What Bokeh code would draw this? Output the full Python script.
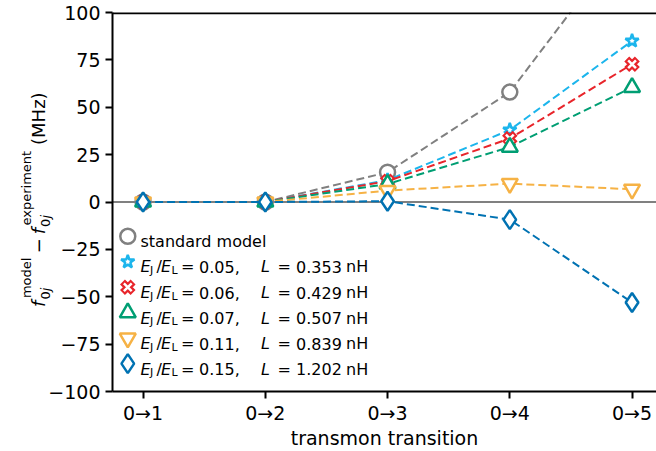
import math
from bokeh.plotting import figure
from bokeh.layouts import row
from bokeh.models import Range1d, FixedTicker, Span, Label
from bokeh.embed import file_html
from bokeh.resources import INLINE

# ---------------- data ----------------
transitions = ["0→1", "0→2", "0→3", "0→4", "0→5"]
x_idx = [0, 1, 2, 3, 4]
standard_model = [0.0, 0.0, 15.7, 58.0, 143.0]
dev_r005 = [0.0, 0.0, 11.5, 38.0, 85.0]
dev_r006 = [0.0, 0.0, 11.0, 33.5, 72.7]
dev_r007 = [0.0, 0.0, 9.5, 29.0, 60.5]
dev_r011 = [0.0, 0.0, 6.0, 9.7, 6.7]
dev_r015 = [0.0, 0.0, 0.4, -9.3, -53.0]
ratio_labels = ["0.05", "0.06", "0.07", "0.11", "0.15"]
inductance_labels = ["0.353", "0.429", "0.507", "0.839", "1.202"]
y_ticks = [-100, -75, -50, -25, 0, 25, 50, 75, 100]
y_tick_labels = ["−100", "−75", "−50", "−25", "0", "25", "50", "75", "100"]

# ---------------- style ----------------
FONT = "DejaVu Sans"
GRAY = "#808080"
colors = ["#1cb5ec", "#e8252b", "#009e73", "#f6b245", "#0072b2"]
markers = ["star", "x", "triangle", "inverted_triangle", "diamond"]
sizes = [14, 15, 16, 16, 19]
series = [dev_r005, dev_r006, dev_r007, dev_r011, dev_r015]

WIN_H = 451
LABEL_W = 55
OVERLAP = 10
LEFT, TOP, BOTTOM = 67, 12, 58
MAIN_W = 656 - LABEL_W + OVERLAP

p = figure(width=MAIN_W, height=WIN_H, output_backend="svg", toolbar_location=None,
           x_range=Range1d(-0.25, 4.2), y_range=Range1d(-100, 100),
           min_border_left=LEFT, min_border_right=0, min_border_top=TOP,
           min_border_bottom=BOTTOM)
p.outline_line_color = None
p.border_fill_color = None
p.grid.visible = False
p.margin = (0, 0, 0, -OVERLAP)

for ax in (p.xaxis[0], p.yaxis[0]):
    ax.axis_line_width = 2
    ax.axis_line_color = "black"
    ax.major_tick_line_width = 2
    ax.major_tick_line_color = "black"
    ax.major_tick_out = 7
    ax.major_tick_in = 0
    ax.minor_tick_line_color = None
    ax.major_label_text_font = FONT
    ax.major_label_text_font_size = "19px"
    ax.major_label_text_color = "black"

p.xaxis.ticker = FixedTicker(ticks=x_idx)
p.xaxis.major_label_overrides = {i: t for i, t in zip(x_idx, transitions)}
p.xaxis.major_label_standoff = 3
p.xaxis.axis_label = "transmon transition"
p.xaxis.axis_label_text_font = FONT
p.xaxis.axis_label_text_font_size = "19px"
p.xaxis.axis_label_text_font_style = "normal"
p.xaxis.axis_label_text_color = "black"
p.xaxis.axis_label_standoff = 0

p.yaxis.ticker = FixedTicker(ticks=y_ticks)
p.yaxis.major_label_overrides = {v: t for v, t in zip(y_ticks, y_tick_labels)}
p.yaxis.major_label_standoff = 5

p.add_layout(Span(location=0, dimension="width", line_color=GRAY, line_width=2, level="underlay"))
p.add_layout(Span(location=99.7, dimension="width", line_color="black", line_width=2.2))

# ---------------- series ----------------
def draw_marker(xs, ys, marker, color, size):
    if marker == "x":
        p.scatter(xs, ys, marker="x", size=size, line_color=color, line_width=7)
        p.scatter(xs, ys, marker="x", size=size - 4, line_color="white", line_width=2.5)
    else:
        p.scatter(xs, ys, marker=marker, size=size, line_color=color,
                  fill_color="white", line_width=2.5)

p.line(x_idx, standard_model, line_color=GRAY, line_width=2, line_dash="8 4")
draw_marker(x_idx, standard_model, "circle", GRAY, 15)
for vals, c, m, s in zip(series, colors, markers, sizes):
    p.line(x_idx, vals, line_color=c, line_width=2, line_dash="8 4")
    draw_marker(x_idx, vals, m, c, s)

# ---------------- legend (manual, for math formatting) ----------------
FRAME_LEFT_PAGE = 112
FRAME_BOTTOM_PAGE = WIN_H - BOTTOM

def txt(px, py, text, size, style="normal"):
    p.add_layout(Label(x=px - FRAME_LEFT_PAGE, y=FRAME_BOTTOM_PAGE - py,
                       x_units="screen", y_units="screen", text=text,
                       text_font=FONT, text_font_size=f"{size}px",
                       text_font_style=style, text_color="black",
                       text_align="left", text_baseline="alphabetic"))

legend_x = -0.125
legend_y0 = -18.1
legend_dy = 13.44
row_page_y0 = 237.0
row_page_dy = 25.6
text_x = 140.0

draw_marker([legend_x], [legend_y0], "circle", GRAY, 15)
txt(text_x, row_page_y0 + 5.8, "standard model", 16)
for i in range(5):
    draw_marker([legend_x], [legend_y0 - legend_dy * (i + 1)], markers[i], colors[i], sizes[i])
    base = row_page_y0 + row_page_dy * (i + 1) + 5.8
    txt(text_x + 0, base, "E", 16, "italic")
    txt(text_x + 9.5, base + 3.5, "J", 11)
    txt(text_x + 16, base, "/", 16)
    txt(text_x + 20.5, base, "E", 16, "italic")
    txt(text_x + 31, base + 3.5, "L", 11)
    txt(text_x + 40.5, base, "=", 16)
    txt(text_x + 58.5, base, ratio_labels[i] + ",", 16)
    txt(text_x + 120.5, base, "L", 16, "italic")
    txt(text_x + 137, base, "=", 16)
    txt(text_x + 155.5, base, inductance_labels[i], 16)
    txt(text_x + 205.5, base, "nH", 16)

# ---------------- rotated y-axis label (separate narrow panel) ----------------
q = figure(width=LABEL_W, height=WIN_H, output_backend="svg", toolbar_location=None,
           x_range=Range1d(0, LABEL_W), y_range=Range1d(-100, 100),
           min_border_left=0, min_border_right=0, min_border_top=TOP,
           min_border_bottom=BOTTOM, x_axis_location=None, y_axis_location=None)
q.outline_line_color = None
q.grid.visible = False

PX_PER_UNIT = (FRAME_BOTTOM_PAGE - TOP) / 200.0
ZERO_PAGE_Y = TOP + 100 * PX_PER_UNIT

EM = {"f": 0.352, "0": 0.636, "j": 0.278, "model": 3.114, "−": 0.838,
      "experiment": 5.761, "(MHz)": 2.92}
A = math.pi / 2
start = 308.0
main_x, sub_x, sup_x = 44.5, 49.0, 30.5

def ytxt(d, bx, text, size, style="normal"):
    w = EM[text] * size
    cy = start - d - w / 2.0
    cx = bx - 0.346 * size
    q.add_layout(Label(x=cx, y=(ZERO_PAGE_Y - cy) / PX_PER_UNIT,
                       x_units="data", y_units="data", text=text,
                       text_font=FONT, text_font_size=f"{size}px",
                       text_font_style=style, text_color="black",
                       text_align="center", text_baseline="middle", angle=A))

ytxt(0, main_x, "f", 18, "italic")
ytxt(7.5, sub_x, "0", 13)
ytxt(15.8, sub_x, "j", 13, "italic")
ytxt(9, sup_x, "model", 13)
ytxt(54, main_x, "−", 18)
ytxt(73, main_x, "f", 18, "italic")
ytxt(80.5, sub_x, "0", 13)
ytxt(88.8, sub_x, "j", 13, "italic")
ytxt(82, sup_x, "experiment", 13)
ytxt(163, main_x, "(MHz)", 18)

layout = row(q, p)
open("out.html", "w").write(file_html(layout, INLINE))
